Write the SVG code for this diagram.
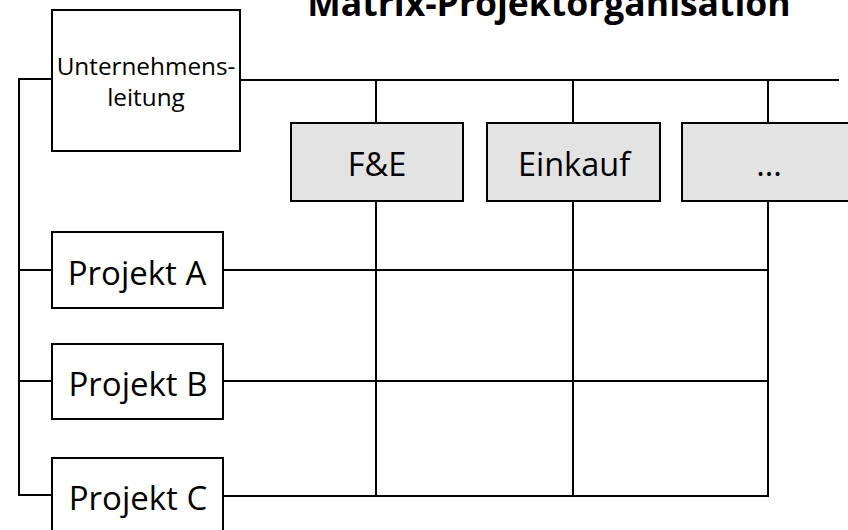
<svg xmlns="http://www.w3.org/2000/svg" width="848" height="530" viewBox="0 0 848 530">
  <style>
    .box { fill: #ffffff; stroke: #000000; stroke-width: 2; }
    .dept { fill: #e3e3e3; stroke: #000000; stroke-width: 2; }
    .line { fill: none; stroke: #000000; stroke-width: 2; }
    .label { font-family: "Open Sans", "Liberation Sans", sans-serif; fill: #000000; text-anchor: middle; }
    .title { font-family: "Open Sans", "Liberation Sans", sans-serif; font-weight: bold; fill: #000000; text-anchor: middle; }
  </style>
  <rect width="848" height="530" fill="#ffffff"/>

  <text class="title" x="549" y="16" font-size="35.5">Matrix-Projektorganisation</text>

  <!-- connectors -->
  <g id="connectors">
    <!-- management to the project line -->
    <polyline class="line" points="52,79 19,79 19,495 52,495"/>
    <line class="line" x1="19" y1="270" x2="52" y2="270"/>
    <line class="line" x1="19" y1="381" x2="52" y2="381"/>
    <!-- management to the departments -->
    <line class="line" x1="240" y1="80" x2="839" y2="80"/>
    <line class="line" x1="376" y1="80" x2="376" y2="123"/>
    <line class="line" x1="573" y1="80" x2="573" y2="123"/>
    <line class="line" x1="768" y1="80" x2="768" y2="123"/>
    <!-- matrix grid -->
    <line class="line" x1="376" y1="201" x2="376" y2="496"/>
    <line class="line" x1="573" y1="201" x2="573" y2="496"/>
    <line class="line" x1="768" y1="201" x2="768" y2="496"/>
    <line class="line" x1="223" y1="270" x2="769" y2="270"/>
    <line class="line" x1="223" y1="381" x2="769" y2="381"/>
    <line class="line" x1="223" y1="496" x2="769" y2="496"/>
  </g>

  <g id="unternehmensleitung">
    <rect class="box" x="52" y="10" width="188" height="141"/>
    <text class="label" x="146" y="75" font-size="24.3">Unternehmens-</text>
    <text class="label" x="146" y="106" font-size="24.3">leitung</text>
  </g>

  <g id="fe">
    <rect class="dept" x="291" y="123" width="172" height="78"/>
    <text class="label" x="377" y="176" font-size="32.5">F&amp;E</text>
  </g>
  <g id="einkauf">
    <rect class="dept" x="487" y="123" width="173" height="78"/>
    <text class="label" x="574" y="176" font-size="32.5">Einkauf</text>
  </g>
  <g id="weitere">
    <rect class="dept" x="682" y="123" width="172" height="78"/>
    <text class="label" x="769" y="176" font-size="32.5">...</text>
  </g>

  <g id="projekt-a">
    <rect class="box" x="52" y="232" width="171" height="76"/>
    <text class="label" x="137" y="285" font-size="33">Projekt A</text>
  </g>
  <g id="projekt-b">
    <rect class="box" x="52" y="344" width="171" height="75"/>
    <text class="label" x="138" y="396" font-size="33">Projekt B</text>
  </g>
  <g id="projekt-c">
    <rect class="box" x="52" y="458" width="171" height="80"/>
    <text class="label" x="138" y="510" font-size="33">Projekt C</text>
  </g>
</svg>
